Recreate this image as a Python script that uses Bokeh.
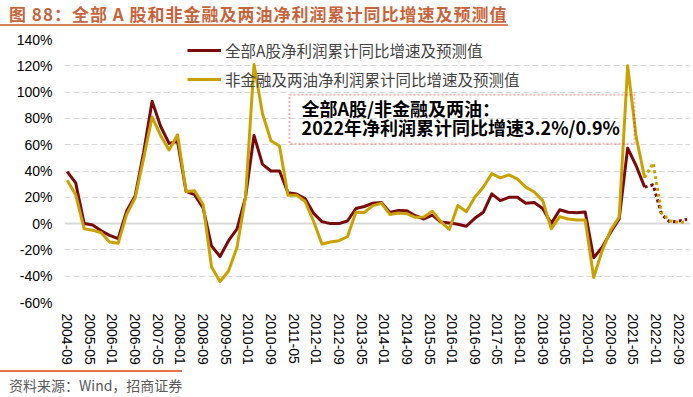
from bokeh.plotting import figure
from bokeh.models import (Range1d, FixedTicker, Span, BoxAnnotation, Label,
                          Legend, LegendItem, Div, ColumnDataSource)
from bokeh.layouts import column
from bokeh.embed import file_html
from bokeh.resources import INLINE

# ---------------- data ----------------
quarters = [
    "2004-09", "2004-12",
    "2005-03", "2005-06", "2005-09", "2005-12",
    "2006-03", "2006-06", "2006-09", "2006-12",
    "2007-03", "2007-06", "2007-09", "2007-12",
    "2008-03", "2008-06", "2008-09", "2008-12",
    "2009-03", "2009-06", "2009-09", "2009-12",
    "2010-03", "2010-06", "2010-09", "2010-12",
    "2011-03", "2011-06", "2011-09", "2011-12",
    "2012-03", "2012-06", "2012-09", "2012-12",
    "2013-03", "2013-06", "2013-09", "2013-12",
    "2014-03", "2014-06", "2014-09", "2014-12",
    "2015-03", "2015-06", "2015-09", "2015-12",
    "2016-03", "2016-06", "2016-09", "2016-12",
    "2017-03", "2017-06", "2017-09", "2017-12",
    "2018-03", "2018-06", "2018-09", "2018-12",
    "2019-03", "2019-06", "2019-09", "2019-12",
    "2020-03", "2020-06", "2020-09", "2020-12",
    "2021-03", "2021-06", "2021-09",
]
all_a = [39.5, 31, 0, -1, -5.5, -9, -11.5, 9.5, 21, 54,
         93, 74, 61, 62.5, 24.5, 22, 12, -17, -25, -13,
         -4, 20, 67, 45, 40, 40, 23.5, 22.5, 19, 8,
         1.5, 0, 0, 2, 11.5, 13, 15.5, 16, 8.5, 10,
         9.7, 6, 3.5, 6.5, 1.2, 0.5, -0.5, -2, 4, 8.6,
         22.6, 17.5, 20, 20, 15.5, 16, 11.5, 0, 10.5, 8.6,
         8.3, 8.8, -26, -18, -6.6, 3.5, 57.4, 44, 27.7]
non_fin = [33, 22, -4, -5, -7, -14, -15, 7, 19.5, 49.5,
           81, 67, 56, 67.5, 24.5, 25, 14.5, -33, -44, -36,
           -18, 20, 121, 83.5, 63, 59, 21.5, 21.5, 17, 2,
           -15.5, -14, -13, -10, 8.6, 8.5, 13.7, 15.5, 7, 8,
           7.5, 4.8, 5, 9.4, 1.5, -4.5, 13.7, 9, 20, 27.7,
           38, 34.8, 37, 34, 27.7, 24, 17.5, -4, 5.3, 3.5,
           2.8, 2.8, -41, -20.5, -5, 5, 120, 66, 35]

fc_quarters = ["2021-09", "2021-12", "2022-03", "2022-06", "2022-09", "2022-12"]
fc_all_a = [27.7, 29.5, 7.0, 1.0, 2.0, 3.2]
fc_non_fin = [35.0, 46.0, 8.0, 2.0, 1.0, 0.9]

x_tick_labels = ["2004-09", "2005-05", "2006-01", "2006-09", "2007-05", "2008-01",
                 "2008-09", "2009-05", "2010-01", "2010-09", "2011-05", "2012-01",
                 "2012-09", "2013-05", "2014-01", "2014-09", "2015-05", "2016-01",
                 "2016-09", "2017-05", "2018-01", "2018-09", "2019-05", "2020-01",
                 "2020-09", "2021-05", "2022-01", "2022-09"]
y_ticks = [-60, -40, -20, 0, 20, 40, 60, 80, 100, 120, 140]

name_all = "全部A股净利润累计同比增速及预测值"
name_nf = "非金融及两油净利润累计同比增速及预测值"


def month_index(s):
    yy, mm = map(int, s.split("-"))
    return (yy - 2004) * 12 + (mm - 9)


RED = "#7A0A0A"
GOLD = "#C9A100"
CJK = "Noto Sans CJK SC"
LAT = "Liberation Sans"

src = ColumnDataSource(dict(m=[month_index(q) for q in quarters], a=all_a, n=non_fin))
fsrc = ColumnDataSource(dict(m=[month_index(q) for q in fc_quarters], a=fc_all_a, n=fc_non_fin))

p = figure(width=693, height=342, x_range=Range1d(-0.95, 220.2), y_range=Range1d(-60, 140),
           output_backend="svg", toolbar_location=None,
           min_border_left=64, min_border_right=3, min_border_top=11, min_border_bottom=68)
p.outline_line_color = None
p.background_fill_color = None
p.border_fill_color = None
p.xgrid.visible = False
p.ygrid.ticker = FixedTicker(ticks=[t for t in y_ticks if t != 0])
p.ygrid.grid_line_color = "#D9D9D9"
p.ygrid.grid_line_dash = "6 3"
p.ygrid.grid_line_width = 1
p.add_layout(Span(location=0, dimension="width", line_color="#D9D9D9", line_width=2, level="underlay"))

p.yaxis.ticker = FixedTicker(ticks=y_ticks)
p.yaxis.major_label_overrides = {t: f"{t}%" for t in y_ticks}
p.xaxis.ticker = FixedTicker(ticks=[month_index(s) for s in x_tick_labels])
p.xaxis.major_label_overrides = {month_index(s): s for s in x_tick_labels}
p.xaxis.major_label_orientation = "vertical"
for ax in (p.xaxis, p.yaxis):
    ax.axis_line_color = None
    ax.major_tick_line_color = None
    ax.minor_tick_line_color = None
    ax.major_tick_out = 0
    ax.major_label_text_font = LAT
    ax.major_label_text_font_size = "14px"
    ax.major_label_text_color = "#000000"
p.yaxis.major_label_standoff = 12
p.xaxis.major_label_standoff = 11

r_a = p.line("m", "a", source=src, line_color=RED, line_width=3, line_join="round")
r_n = p.line("m", "n", source=src, line_color=GOLD, line_width=3, line_join="round")
p.line("m", "a", source=fsrc, line_color=RED, line_width=3, line_dash="3 3")
p.line("m", "n", source=fsrc, line_color=GOLD, line_width=3, line_dash="3 3")

legend = Legend(items=[LegendItem(label=name_all, renderers=[r_a]),
                       LegendItem(label=name_nf, renderers=[r_n])],
                location=(123, 212), orientation="vertical",
                glyph_width=34, glyph_height=20, label_height=20, spacing=7,
                padding=0, margin=0, label_standoff=4,
                label_text_font=CJK, label_text_font_size="15.5px",
                background_fill_alpha=0, border_line_alpha=0)
p.add_layout(legend)

p.add_layout(BoxAnnotation(left=78.5, right=200.4, top=98, bottom=60.7,
                           fill_alpha=0, line_color="#FF0000", line_width=2, line_dash="2 2"))
p.add_layout(Label(x=82.8, y=88.2, text="全部A股/非金融及两油：", text_font=CJK,
                   text_font_size="18px", text_font_style="bold", text_baseline="middle",
                   text_color="#000000"))
p.add_layout(Label(x=82.8, y=73.8, text="2022年净利润累计同比增速3.2%/0.9%", text_font=CJK,
                   text_font_size="18px", text_font_style="bold", text_baseline="middle",
                   text_color="#000000"))

title_div = Div(
    text=('<div style="height:26px;border-bottom:2px solid #D98060;white-space:nowrap;'
          'font-family:\'Noto Sans CJK SC\';font-weight:bold;font-size:17px;line-height:27px;'
          'letter-spacing:1px;color:#C8643C;padding-left:9px;overflow:hidden">'
          '图 88：全部 A 股和非金融及两油净利润累计同比增速及预测值</div>'),
    width=693, height=28, margin=(0, 0, 0, 0))
footer_div = Div(
    text=('<div style="height:19px;border-top:2px solid #E8734A;padding-top:4px;white-space:nowrap;'
          'font-family:\'Noto Sans CJK SC\';font-size:14px;line-height:18px;color:#595959;'
          'padding-left:9px">资料来源：Wind，招商证券</div>'),
    width=693, height=25, margin=(0, 0, 0, 0))

layout = column(title_div, p, footer_div, spacing=0)
open("out.html", "w").write(file_html(layout, INLINE))
